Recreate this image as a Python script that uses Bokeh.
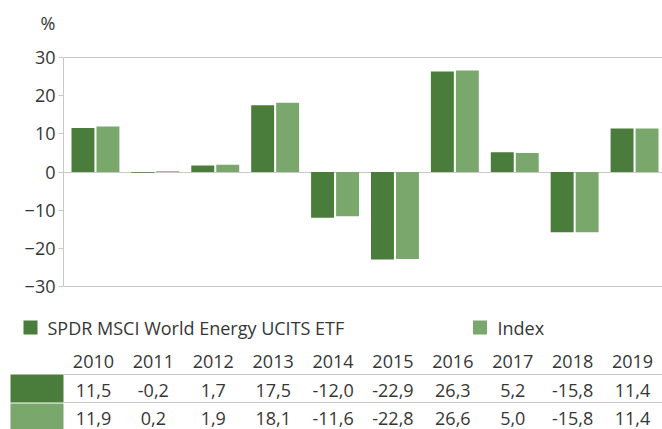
from bokeh.plotting import figure
from bokeh.models import FactorRange, Range1d, FixedTicker, ColumnDataSource
from bokeh.transform import dodge
from bokeh.core.properties import value
from bokeh.embed import file_html
from bokeh.resources import INLINE

# ---------------- data ----------------
years = ["2010", "2011", "2012", "2013", "2014", "2015", "2016", "2017", "2018", "2019"]
etf_values = [11.5, -0.2, 1.7, 17.5, -12.0, -22.9, 26.3, 5.2, -15.8, 11.4]
index_values = [11.9, 0.2, 1.9, 18.1, -11.6, -22.8, 26.6, 5.0, -15.8, 11.4]
series_names = ["SPDR MSCI World Energy UCITS ETF", "Index"]
y_ticks = [-30, -20, -10, 0, 10, 20, 30]
unit_label = "%"

# ---------------- styles ----------------
DARK = "#4a7c3b"
LIGHT = "#7aa86c"
GRID = "#c8c8c8"
TEXT = "#363636"
FONT = "Open Sans"
FS = "18px"

W = 662
LEFT = 63
FRAME_W = W - LEFT
FRAME_H = 233
CAT_W = FRAME_W / len(years)

fmt = lambda v: f"{v:.1f}".replace(".", ",")


def bare(fig):
    fig.outline_line_color = None
    fig.axis.visible = False
    fig.grid.visible = False
    fig.background_fill_color = "white"
    fig.border_fill_color = "white"
    return fig


# ---------------- unit label strip ----------------
H0 = 40
p0 = bare(figure(x_range=Range1d(0, W), y_range=Range1d(H0, 0),
                 frame_width=W, frame_height=H0,
                 min_border_left=0, min_border_right=0, min_border_top=0, min_border_bottom=0,
                 output_backend="svg", toolbar_location=None))
p0.text(x=[40], y=[22.5], text=[unit_label], text_align="left", text_baseline="middle",
        text_font=value(FONT), text_font_size=FS, text_color=TEXT)

# ---------------- chart ----------------
src = ColumnDataSource(dict(year=years, etf=etf_values, idx=index_values))

p1 = figure(x_range=FactorRange(factors=years), y_range=Range1d(-30.5, 30.5),
            frame_width=FRAME_W, frame_height=FRAME_H,
            min_border_left=LEFT, min_border_right=0, min_border_top=15, min_border_bottom=10,
            output_backend="svg", toolbar_location=None)
p1.outline_line_color = None
p1.background_fill_color = "white"
p1.border_fill_color = "white"

p1.vbar(x=dodge("year", -0.175, range=p1.x_range), top="etf", bottom=0, width=0.383,
        source=src, fill_color=DARK, line_color=None)
p1.vbar(x=dodge("year", 0.242, range=p1.x_range), top="idx", bottom=0, width=0.383,
        source=src, fill_color=LIGHT, line_color=None)

p1.xaxis.visible = False
p1.xgrid.visible = False
p1.ygrid.ticker = FixedTicker(ticks=[y_ticks[0], 0, y_ticks[-1]])
p1.ygrid.grid_line_color = GRID
p1.ygrid.grid_line_width = 1

ya = p1.yaxis[0]
ya.ticker = FixedTicker(ticks=y_ticks)
ya.bounds = (y_ticks[0], y_ticks[-1])
ya.axis_line_color = GRID
ya.major_tick_line_color = GRID
ya.minor_tick_line_color = None
ya.major_tick_out = 5
ya.major_tick_in = 0
ya.major_label_standoff = 3
ya.major_label_text_font = FONT
ya.major_label_text_font_size = FS
ya.major_label_text_color = TEXT

# ---------------- legend + table (y in page pixels) ----------------
TOP2 = 298
BOT2 = 429
p2 = bare(figure(x_range=Range1d(0, W), y_range=Range1d(BOT2, TOP2),
                 frame_width=W, frame_height=BOT2 - TOP2,
                 min_border_left=0, min_border_right=0, min_border_top=0, min_border_bottom=0,
                 output_backend="svg", toolbar_location=None))

col_x = [LEFT + (i + 0.5) * CAT_W for i in range(len(years))]

LEG_Y = 327
p2.scatter(x=[30, 479.5], y=[LEG_Y, LEG_Y], marker="square", size=14,
           fill_color=[DARK, LIGHT], line_color=None)
p2.text(x=[47, 497], y=[LEG_Y, LEG_Y], text=series_names, text_align="left",
        text_baseline="middle", text_font=value(FONT), text_font_size=FS, text_color=TEXT)

YEAR_Y = 360.5
LINE1 = 374
LINE2 = 402
p2.text(x=col_x, y=[YEAR_Y] * len(years), text=years, text_align="center",
        text_baseline="middle", text_font=value(FONT), text_font_size=FS, text_color=TEXT)

p2.quad(left=[10, 10], right=[LEFT, LEFT], top=[LINE1, LINE2 + 1], bottom=[LINE2, BOT2],
        fill_color=[DARK, LIGHT], line_color=None)

p2.segment(x0=[LEFT, LEFT], x1=[W, W], y0=[LINE1, LINE2], y1=[LINE1, LINE2],
           line_color=GRID, line_width=1)

p2.text(x=col_x, y=[LINE1 + 15.5] * len(years), text=[fmt(v) for v in etf_values],
        text_align="center", text_baseline="middle", text_font=value(FONT),
        text_font_size=FS, text_color=TEXT)
p2.text(x=col_x, y=[LINE2 + 15.5] * len(years), text=[fmt(v) for v in index_values],
        text_align="center", text_baseline="middle", text_font=value(FONT),
        text_font_size=FS, text_color=TEXT)

open("out.html", "w").write(file_html([p0, p1, p2], INLINE))
